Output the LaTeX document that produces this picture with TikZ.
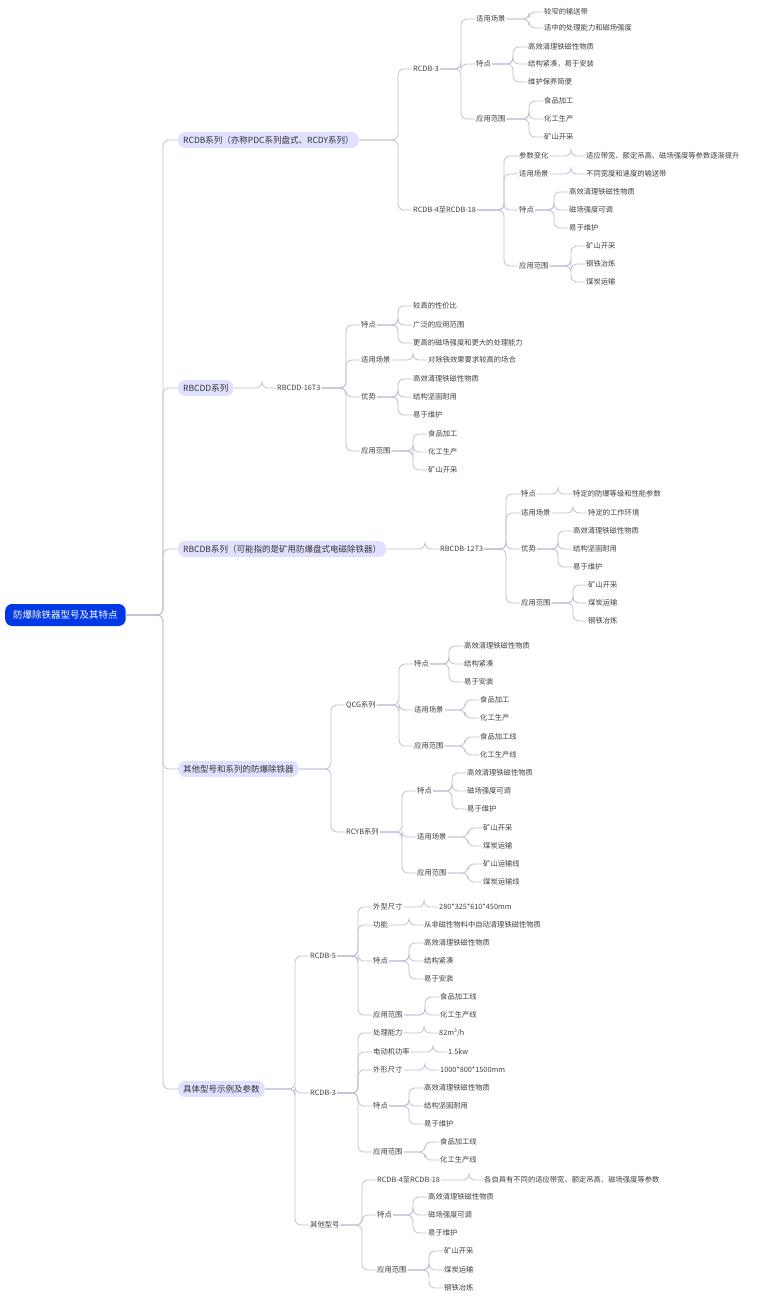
\documentclass[tikz,border=0pt]{standalone}
\usepackage{fontspec}
\setmainfont{Noto Sans CJK SC}
\begin{document}
\begin{tikzpicture}[x=1pt,y=-1pt,
  t/.style={inner sep=1pt,anchor=west,font=\fontsize{7.3}{8}\selectfont,text=black!75},
  l1/.style={t,fill=blue!12,rounded corners=7pt,inner xsep=5pt,minimum height=16pt,font=\fontsize{8.5}{9}\selectfont,text=black!80},
  rootn/.style={inner xsep=8pt,anchor=west,fill=blue!75!cyan!90!black,text=white,rounded corners=7pt,minimum height=22pt,font=\fontsize{9.5}{10}\selectfont},
  link/.style={draw=blue!25!gray!40,line width=0.8pt,rounded corners=6pt}]
\fill[white] (0,0) rectangle (762,1300);
\useasboundingbox (0,0) rectangle (762,1300);
\newcommand\N[4]{\node[t] (#1) at (#2,#3) {#4};}
\newcommand\C[2]{\draw[link] (#2.west) -- ++(-14,0) |- (#1.east);}
\node[rootn] (root) at (5,615) {防爆除铁器型号及其特点};
\node[l1] (A) at (178,140) {RCDB系列（亦称PDC系列盘式、RCDY系列）};
\node[l1] (B) at (178,388) {RBCDD系列};
\node[l1] (C) at (178,549) {RBCDB系列（可能指的是矿用防爆盘式电磁除铁器）};
\node[l1] (D) at (178,769) {其他型号和系列的防爆除铁器};
\node[l1] (E) at (178,1089) {具体型号示例及参数};
\foreach \c in {A,B,C,D,E}{\draw[link] (\c.west) -- ++(-15,0) |- (root.east);}
% A
\N{a1}{412}{69}{RCDB-3}\N{a2}{412}{210}{RCDB-4至RCDB-18}
\C{A}{a1}\C{A}{a2}
\N{a11}{475}{19}{适用场景}\N{a12}{475}{64}{特点}\N{a13}{475}{119}{应用范围}
\C{a1}{a11}\C{a1}{a12}\C{a1}{a13}
\N{a111}{543}{12}{较窄的输送带}\N{a112}{543}{28}{适中的处理能力和磁场强度}
\C{a11}{a111}\C{a11}{a112}
\N{a121}{527}{47}{高效清理铁磁性物质}\N{a122}{527}{64}{结构紧凑，易于安装}\N{a123}{527}{82}{维护保养简便}
\C{a12}{a121}\C{a12}{a122}\C{a12}{a123}
\N{a131}{543}{101}{食品加工}\N{a132}{543}{119}{化工生产}\N{a133}{543}{137}{矿山开采}
\C{a13}{a131}\C{a13}{a132}\C{a13}{a133}
\N{a21}{518}{156}{参数变化}\N{a22}{518}{174}{适用场景}\N{a23}{518}{210}{特点}\N{a24}{518}{266}{应用范围}
\C{a2}{a21}\C{a2}{a22}\C{a2}{a23}\C{a2}{a24}
\N{a211}{585}{156}{适应带宽、额定吊高、磁场强度等参数逐渐提升}\C{a21}{a211}
\N{a221}{585}{174}{不同宽度和速度的输送带}\C{a22}{a221}
\N{a231}{568}{192}{高效清理铁磁性物质}\N{a232}{568}{210}{磁场强度可调}\N{a233}{568}{228}{易于维护}
\C{a23}{a231}\C{a23}{a232}\C{a23}{a233}
\N{a241}{585}{246}{矿山开采}\N{a242}{585}{264}{钢铁冶炼}\N{a243}{585}{282}{煤炭运输}
\C{a24}{a241}\C{a24}{a242}\C{a24}{a243}
% B
\N{b1}{276}{388}{RBCDD-16T3}\C{B}{b1}
\N{b11}{360}{325}{特点}\N{b12}{360}{360}{适用场景}\N{b13}{360}{397}{优势}\N{b14}{360}{451}{应用范围}
\C{b1}{b11}\C{b1}{b12}\C{b1}{b13}\C{b1}{b14}
\N{b111}{412}{306}{较高的性价比}\N{b112}{412}{325}{广泛的应用范围}\N{b113}{412}{343}{更高的磁场强度和更大的处理能力}
\C{b11}{b111}\C{b11}{b112}\C{b11}{b113}
\N{b121}{427}{360}{对除铁效果要求较高的场合}\C{b12}{b121}
\N{b131}{412}{379}{高效清理铁磁性物质}\N{b132}{412}{397}{结构坚固耐用}\N{b133}{412}{415}{易于维护}
\C{b13}{b131}\C{b13}{b132}\C{b13}{b133}
\N{b141}{427}{434}{食品加工}\N{b142}{427}{452}{化工生产}\N{b143}{427}{470}{矿山开采}
\C{b14}{b141}\C{b14}{b142}\C{b14}{b143}
% C
\N{c1}{439}{549}{RBCDB-12T3}\C{C}{c1}
\N{c11}{520}{494}{特点}\N{c12}{520}{513}{适用场景}\N{c13}{520}{549}{优势}\N{c14}{520}{603}{应用范围}
\C{c1}{c11}\C{c1}{c12}\C{c1}{c13}\C{c1}{c14}
\N{c111}{572}{494}{特定的防爆等级和性能参数}\C{c11}{c111}
\N{c121}{587}{513}{特定的工作环境}\C{c12}{c121}
\N{c131}{572}{531}{高效清理铁磁性物质}\N{c132}{572}{549}{结构坚固耐用}\N{c133}{572}{567}{易于维护}
\C{c13}{c131}\C{c13}{c132}\C{c13}{c133}
\N{c141}{587}{585}{矿山开采}\N{c142}{587}{603}{煤炭运输}\N{c143}{587}{621}{钢铁冶炼}
\C{c14}{c141}\C{c14}{c142}\C{c14}{c143}
% D
\N{d1}{345}{705}{QCG系列}\N{d2}{345}{832}{RCYB系列}\C{D}{d1}\C{D}{d2}
\N{d11}{413}{664}{特点}\N{d12}{413}{710}{适用场景}\N{d13}{413}{746}{应用范围}
\C{d1}{d11}\C{d1}{d12}\C{d1}{d13}
\N{d111}{463}{646}{高效清理铁磁性物质}\N{d112}{463}{664}{结构紧凑}\N{d113}{463}{682}{易于安装}
\C{d11}{d111}\C{d11}{d112}\C{d11}{d113}
\N{d121}{479}{700}{食品加工}\N{d122}{479}{718}{化工生产}\C{d12}{d121}\C{d12}{d122}
\N{d131}{479}{737}{食品加工线}\N{d132}{479}{755}{化工生产线}\C{d13}{d131}\C{d13}{d132}
\N{d21}{416}{791}{特点}\N{d22}{416}{837}{适用场景}\N{d23}{416}{873}{应用范围}
\C{d2}{d21}\C{d2}{d22}\C{d2}{d23}
\N{d211}{466}{773}{高效清理铁磁性物质}\N{d212}{466}{791}{磁场强度可调}\N{d213}{466}{809}{易于维护}
\C{d21}{d211}\C{d21}{d212}\C{d21}{d213}
\N{d221}{482}{828}{矿山开采}\N{d222}{482}{846}{煤炭运输}\C{d22}{d221}\C{d22}{d222}
\N{d231}{482}{864}{矿山运输线}\N{d232}{482}{882}{煤炭运输线}\C{d23}{d231}\C{d23}{d232}
% E
\N{e1}{309}{956}{RCDB-5}\N{e2}{309}{1093}{RCDB-3}\N{e3}{309}{1225}{其他型号}
\C{E}{e1}\C{E}{e2}\C{E}{e3}
\N{e11}{372}{907}{外型尺寸}\N{e12}{372}{925}{功能}\N{e13}{372}{961}{特点}\N{e14}{372}{1015}{应用范围}
\C{e1}{e11}\C{e1}{e12}\C{e1}{e13}\C{e1}{e14}
\N{e111}{438}{907}{280*325*610*450mm}\C{e11}{e111}
\N{e121}{423}{925}{从非磁性物料中自动清理铁磁性物质}\C{e12}{e121}
\N{e131}{423}{943}{高效清理铁磁性物质}\N{e132}{423}{961}{结构紧凑}\N{e133}{423}{979}{易于安装}
\C{e13}{e131}\C{e13}{e132}\C{e13}{e133}
\N{e141}{439}{997}{食品加工线}\N{e142}{439}{1015}{化工生产线}\C{e14}{e141}\C{e14}{e142}
\N{e21}{372}{1033}{处理能力}\N{e22}{372}{1052}{电动机功率}\N{e23}{372}{1070}{外形尺寸}\N{e24}{372}{1106}{特点}\N{e25}{372}{1152}{应用范围}
\C{e2}{e21}\C{e2}{e22}\C{e2}{e23}\C{e2}{e24}\C{e2}{e25}
\N{e211}{438}{1033}{82m³/h}\C{e21}{e211}
\N{e221}{447}{1052}{1.5kw}\C{e22}{e221}
\N{e231}{439}{1070}{1000*800*1500mm}\C{e23}{e231}
\N{e241}{423}{1088}{高效清理铁磁性物质}\N{e242}{423}{1106}{结构坚固耐用}\N{e243}{423}{1124}{易于维护}
\C{e24}{e241}\C{e24}{e242}\C{e24}{e243}
\N{e251}{439}{1142}{食品加工线}\N{e252}{439}{1160}{化工生产线}\C{e25}{e251}\C{e25}{e252}
\N{e31}{376}{1180}{RCDB-4至RCDB-18}\N{e32}{376}{1215}{特点}\N{e33}{376}{1270}{应用范围}
\C{e3}{e31}\C{e3}{e32}\C{e3}{e33}
\N{e311}{483}{1180}{各自具有不同的适应带宽、额定吊高、磁场强度等参数}\C{e31}{e311}
\N{e321}{427}{1197}{高效清理铁磁性物质}\N{e322}{427}{1215}{磁场强度可调}\N{e323}{427}{1233}{易于维护}
\C{e32}{e321}\C{e32}{e322}\C{e32}{e323}
\N{e331}{443}{1251}{矿山开采}\N{e332}{443}{1270}{煤炭运输}\N{e333}{443}{1288}{钢铁冶炼}
\C{e33}{e331}\C{e33}{e332}\C{e33}{e333}
\end{tikzpicture}
\end{document}
